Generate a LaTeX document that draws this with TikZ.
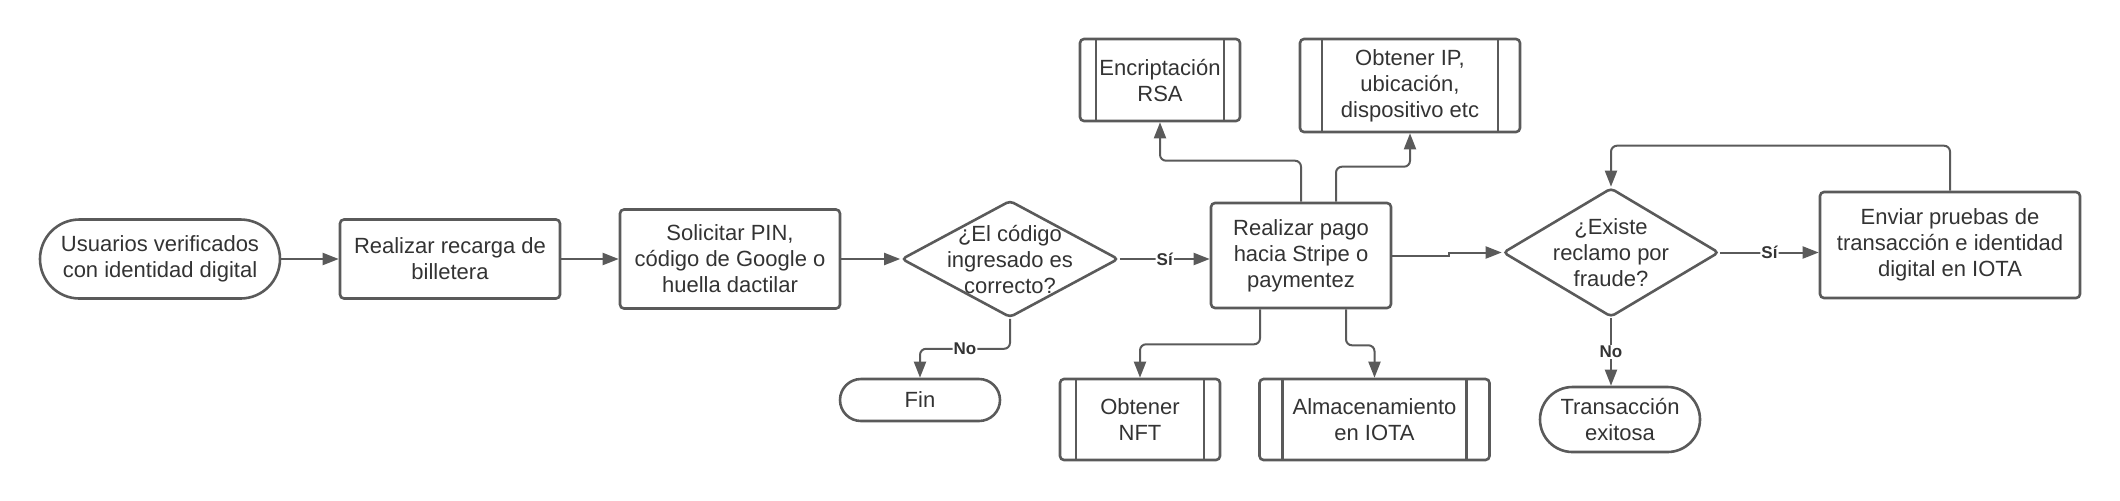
\documentclass[tikz,border=0pt]{standalone}
\usepackage{fontspec}
\setmainfont{Liberation Sans}
\usepackage{xcolor}
\usetikzlibrary{calc,arrows.meta,shapes.geometric}

\definecolor{linegray}{HTML}{5A5A5A}
\definecolor{textgray}{HTML}{333333}

\begin{document}
\begin{tikzpicture}[x=0.5pt,y=-0.5pt,
    font=\fontsize{11}{13}\selectfont, text=textgray,
    box/.style={draw=linegray, line width=1.3pt, rounded corners=2pt,
      align=center, inner sep=2pt},
    term/.style={box, rounded corners=#1},
    subproc/.style={box, path picture={
      \draw[linegray, line width=1.3pt]
        ($(path picture bounding box.north west)!0.1!(path picture bounding box.north east)$) --
        ($(path picture bounding box.south west)!0.1!(path picture bounding box.south east)$)
        ($(path picture bounding box.north west)!0.9!(path picture bounding box.north east)$) --
        ($(path picture bounding box.south west)!0.9!(path picture bounding box.south east)$);}},
    dia/.style={draw=linegray, line width=1.3pt, diamond, rounded corners=2pt, inner sep=0pt},
    arr/.style={draw=linegray, line width=1pt, rounded corners=3pt,
      -{Triangle[length=8pt,width=6pt]}},
    lbl/.style={fill=white, inner sep=0.5pt, font=\fontsize{8.5}{10}\selectfont\bfseries}]

    \useasboundingbox (0,0) rectangle (2120,500);

    % Main row
    \node[term=19.75pt, minimum width=120pt, minimum height=39.5pt] (usr) at (160,259)
      {Usuarios verificados\\con identidad digital};
    \node[box, minimum width=110pt, minimum height=39.5pt] (rec) at (450,259)
      {Realizar recarga de\\billetera};
    \node[box, minimum width=110pt, minimum height=49.5pt] (pin) at (730,259)
      {Solicitar PIN,\\código de Google o\\huella dactilar};
    \node[dia, minimum width=108.5pt, minimum height=58.5pt,
      label={[align=center]center:¿El código\\ingresado es\\correcto?}] (d1) at (1010,259) {};
    \node[box, minimum width=90pt, minimum height=52.5pt] (pago) at (1301,255.5)
      {Realizar pago\\hacia Stripe o\\paymentez};
    \node[dia, minimum width=108pt, minimum height=64.5pt,
      label={[align=center]center:¿Existe\\reclamo por\\fraude?}] (d2) at (1611,252.5) {};
    \node[box, minimum width=130pt, minimum height=53pt] (env) at (1950,245)
      {Enviar pruebas de\\transacción e identidad\\digital en IOTA};

    % Ends
    \node[term=10.5pt, minimum width=80pt, minimum height=21pt] (fin) at (920,400) {Fin};
    \node[term=16.25pt, minimum width=80pt, minimum height=32.5pt] (trx) at (1620,419.5)
      {Transacción\\exitosa};

    % Subprocesses
    \node[subproc, minimum width=80pt, minimum height=41pt] (rsa) at (1160,80)
      {Encriptación\\RSA};
    \node[subproc, minimum width=110pt, minimum height=46.5pt] (ip) at (1410,85.5)
      {Obtener IP,\\ubicación,\\dispositivo etc};
    \node[subproc, minimum width=80pt, minimum height=40.5pt] (nft) at (1140,419.5)
      {Obtener\\NFT};
    \node[subproc, minimum width=115pt, minimum height=40.5pt] (iota) at (1374.5,419.5)
      {Almacenamiento\\en IOTA};

    % Flow
    \draw[arr] (usr.east) -- (rec.west);
    \draw[arr] (rec.east) -- (pin.west);
    \draw[arr] (pin.east) -- (d1.west);
    \draw[arr] (d1.east) -- node[lbl] {Sí} (d1.east -| pago.west);
    \draw[arr] (d1.south) -- ++(0,30) -| node[lbl, pos=0.25] {No} (fin.north);

    % Branches of the payment
    \draw[arr] (pago.north) -- ++(0,-41) -| (rsa.south);
    \draw[arr] ($(pago.north)+(35,0)$) -- ++(0,-35) -| (ip.south);
    \draw[arr] ($(pago.south)+(-41,0)$) -- ++(0,35) -| (nft.north);
    \draw[arr] ($(pago.south)+(45,0)$) -- ++(0,36) -| (iota.north);
    \draw[arr, sharp corners] (pago.east) -- ++(57,0) |- (d2.west);

    % Fraud check
    \draw[arr] (d2.east) -- node[lbl] {Sí} (d2.east -| env.west);
    \draw[arr] (d2.south) -- node[lbl] {No} (d2.south |- trx.north);
    \draw[arr] (env.north) -- ++(0,-45) -| (d2.north);
  \end{tikzpicture}
\end{document}
